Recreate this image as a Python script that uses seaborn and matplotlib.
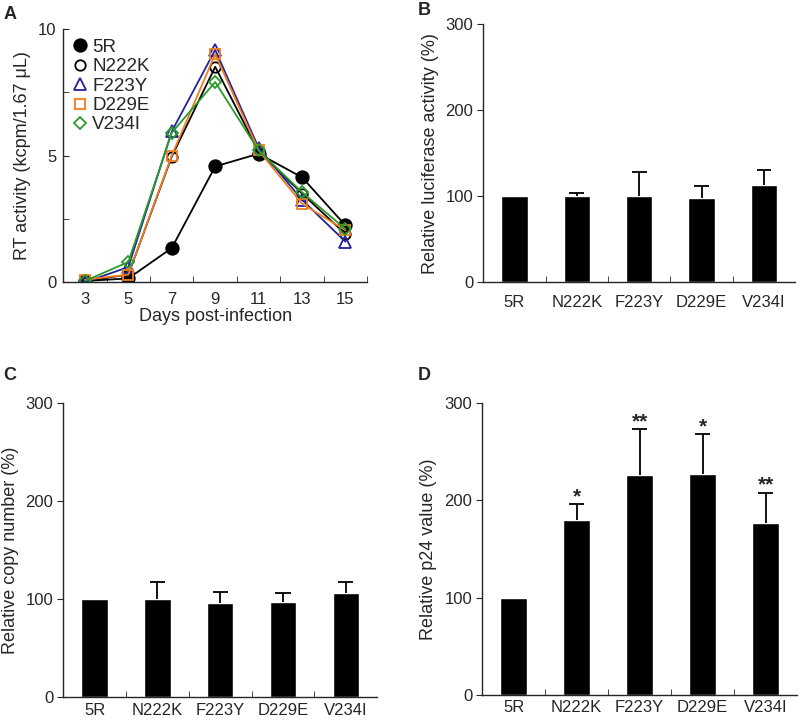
import numpy as np
import pandas as pd
import matplotlib
matplotlib.use("Agg")
import matplotlib.pyplot as plt
from matplotlib.lines import Line2D
import seaborn as sns

# ---------------- data ----------------
days = [3, 5, 7, 9, 11, 13, 15]
rt_5R = [0.05, 0.15, 1.35, 4.57, 5.07, 4.14, 2.24]
rt_N222K = [0.05, 0.30, 4.96, 8.50, 5.16, 3.50, 1.90]
rt_F223Y = [0.00, 0.60, 5.95, 9.17, 5.30, 3.25, 1.60]
rt_D229E = [0.10, 0.30, 5.00, 9.00, 5.20, 3.10, 2.05]
rt_V234I = [0.05, 0.80, 5.90, 7.90, 5.20, 3.55, 2.10]

categories = ["5R", "N222K", "F223Y", "D229E", "V234I"]
luc_mean = [100, 100, 100, 98, 113]
luc_err = [0, 4, 28, 14, 18]
copy_mean = [100, 100, 96, 97, 106]
copy_err = [0, 17, 11, 9, 11]
p24_mean = [100, 180, 226, 227, 177]
p24_err = [0, 16, 47, 41, 31]
p24_sig = ["", "*", "**", "*", "**"]

sns.set_style("ticks")
plt.rcParams["font.family"] = ["Liberation Sans", "DejaVu Sans"]
plt.rcParams["axes.linewidth"] = 1.0

fig = plt.figure(figsize=(8, 7.2), dpi=100)

TFS = 12    # tick labels
LFS = 13    # axis labels

# ---------------- Panel A ----------------
axA = fig.add_axes([0.079, 0.608, 0.38, 0.352])
series = [
    ("5R", rt_5R, "black", "o", "black", 9),
    ("N222K", rt_N222K, "black", "o", "none", 7.5),
    ("F223Y", rt_F223Y, "#22229a", "^", "none", 8.5),
    ("D229E", rt_D229E, "#f07d22", "s", "none", 7.5),
    ("V234I", rt_V234I, "#2a9a2a", "D", "none", 6),
]
handles = []
for name, vals, col, mk, mfc, ms in series:
    df = pd.DataFrame({"day": days, "val": vals})
    sns.lineplot(data=df, x="day", y="val", ax=axA, color=col, marker=mk,
                 markersize=ms, markerfacecolor=mfc, markeredgecolor=col,
                 markeredgewidth=1.3, linewidth=1.3, legend=False)
    handles.append(Line2D([], [], linestyle="none", marker=mk, color=col,
                          markerfacecolor=mfc, markeredgecolor=col,
                          markersize=ms, markeredgewidth=1.3, label=name))
axA.set_xlim(2, 16)
axA.set_ylim(0, 10)
axA.set_xticks([3, 5, 7, 9, 11, 13, 15])
axA.set_xticks([4, 6, 8, 10, 12, 14, 16], minor=True)
axA.tick_params(axis="x", which="major", length=0, labelsize=TFS, pad=7)
axA.tick_params(axis="x", which="minor", direction="in", length=4)
axA.set_yticks([0, 5, 10])
axA.set_yticks([2.5, 7.5], minor=True)
axA.tick_params(axis="y", which="both", direction="in", length=4,
                labelsize=TFS, pad=5)
axA.set_xlabel("Days post-infection", fontsize=LFS, labelpad=1)
axA.set_ylabel("RT activity (kcpm/1.67 \u03bcL)", fontsize=LFS, labelpad=5)
sns.despine(ax=axA)
axA.legend(handles=handles, loc="upper left", frameon=False, fontsize=13.5,
           handletextpad=0.15, labelspacing=0.12, borderaxespad=0.0,
           handlelength=1.0, bbox_to_anchor=(0.0, 0.99))


def bar_panel(ax, means, errs, ylabel, xpad):
    df = pd.DataFrame({"cat": categories, "val": means})
    sns.barplot(data=df, x="cat", y="val", ax=ax, color="black",
                width=0.42, saturation=1, errorbar=None)
    pos = np.arange(len(categories))
    m = np.array(means, dtype=float)
    e = np.array(errs, dtype=float)
    has = e > 0
    ax.vlines(pos[has], m[has], m[has] + e[has], color="black", linewidth=1.3)
    ax.hlines(m[has] + e[has], pos[has] - 0.12, pos[has] + 0.12,
              color="black", linewidth=1.3)
    ax.set_xlim(-0.5, 4.5)
    ax.set_ylim(0, 300)
    ax.set_yticks([0, 100, 200, 300])
    ax.tick_params(axis="y", direction="out", length=4, labelsize=TFS, pad=3)
    ax.set_xticks(pos)
    ax.set_xticks(pos[:-1] + 0.5, minor=True)
    ax.tick_params(axis="x", which="major", length=0, labelsize=TFS, pad=xpad)
    ax.tick_params(axis="x", which="minor", direction="in", length=4)
    ax.set_xlabel("")
    ax.set_ylabel(ylabel, fontsize=LFS, labelpad=5)
    sns.despine(ax=ax)


axB = fig.add_axes([0.604, 0.608, 0.39, 0.358])
bar_panel(axB, luc_mean, luc_err, "Relative luciferase activity (%)", 9)

axC = fig.add_axes([0.079, 0.032, 0.3925, 0.408])
bar_panel(axC, copy_mean, copy_err, "Relative copy number (%)", 4)

axD = fig.add_axes([0.6025, 0.035, 0.394, 0.405])
bar_panel(axD, p24_mean, p24_err, "Relative p24 value (%)", 4)
for i, s in enumerate(p24_sig):
    if s:
        axD.text(i, p24_mean[i] + p24_err[i] + 2, s, ha="center",
                 va="baseline", fontsize=15, fontweight="bold")

for lbl, x, y in [("A", 0.004, 0.992), ("B", 0.522, 0.997),
                  ("C", 0.004, 0.49), ("D", 0.522, 0.49)]:
    fig.text(x, y, lbl, fontsize=13, fontweight="bold", ha="left", va="top")

fig.savefig("out.png", dpi=100)
